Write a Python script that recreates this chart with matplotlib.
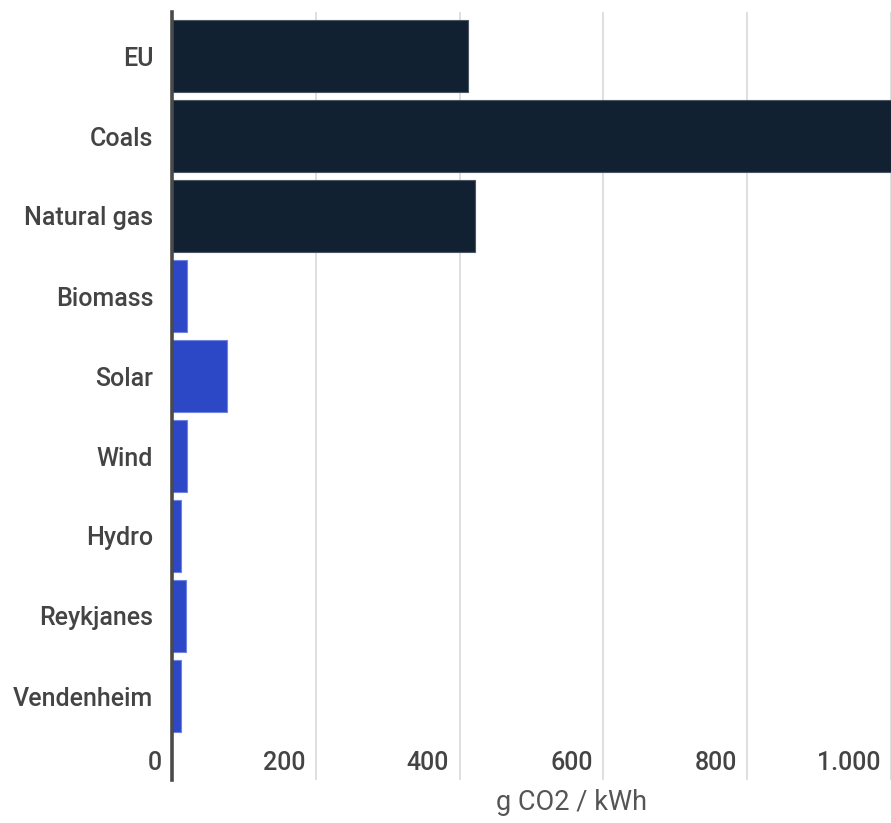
import matplotlib
matplotlib.use("Agg")
import matplotlib.pyplot as plt
from matplotlib.transforms import blended_transform_factory

categories = ["EU", "Coals", "Natural gas", "Biomass", "Solar", "Wind", "Hydro", "Reykjanes", "Vendenheim"]
values = [412, 1000, 422, 21, 76, 21, 12, 19, 12]
groups = ["ref", "ref", "ref", "low", "low", "low", "low", "low", "low"]
xticks = [0, 200, 400, 600, 800, 1000]
xtick_labels = ["0", "200", "400", "600", "800", "1.000"]
xlabel = "g CO2 / kWh"

colors = {"ref": "#122131", "low": "#2c48c7"}
edges = {"ref": "#4a5663", "low": "#6f84e0"}
text_color = "#444444"

plt.rcParams['font.family'] = ['Roboto', 'DejaVu Sans']

fig = plt.figure(figsize=(8.91, 8.23), dpi=100)
ax = fig.add_axes([172 / 891, 1 - 780 / 823, 1 - 172 / 891, (780 - 12) / 823])

ypos = list(range(len(categories)))
ax.barh(ypos, values, height=0.9,
        color=[colors[g] for g in groups],
        edgecolor=[edges[g] for g in groups], linewidth=0.8, zorder=3)

ax.set_xlim(0, 978)
ax.set_ylim(len(categories) - 1 + 1.05, -0.55)

ax.set_yticks(ypos)
ax.set_yticklabels(categories, fontsize=18, color=text_color, fontweight='medium')
ax.tick_params(axis='y', length=0, pad=13.5)

ax.set_xticks(xticks[1:])
ax.set_xticklabels([])
ax.tick_params(axis='x', length=0)
ax.grid(axis='x', color="#dcdcdc", linewidth=1.3, zorder=0)
ax.grid(axis='y', visible=False)

trans = blended_transform_factory(ax.transData, ax.transAxes)
for v, lab in zip(xticks, xtick_labels):
    ax.annotate(lab, xy=(v, 17 / 768), xycoords=trans, xytext=(-7.5, 0),
                textcoords='offset points', ha='right', va='center',
                fontsize=18, fontweight='medium', color=text_color,
                annotation_clip=False, zorder=4)

for s in ["top", "right", "bottom"]:
    ax.spines[s].set_visible(False)
ax.spines["left"].set_color("#4a4a4a")
ax.spines["left"].set_linewidth(2.6)
ax.spines["left"].set_zorder(5)

fig.text(571 / 891, 1 - 803 / 823, xlabel, ha='center', va='center',
         fontsize=19.5, color="#555555")

fig.savefig("out.png", dpi=100, facecolor="white")
